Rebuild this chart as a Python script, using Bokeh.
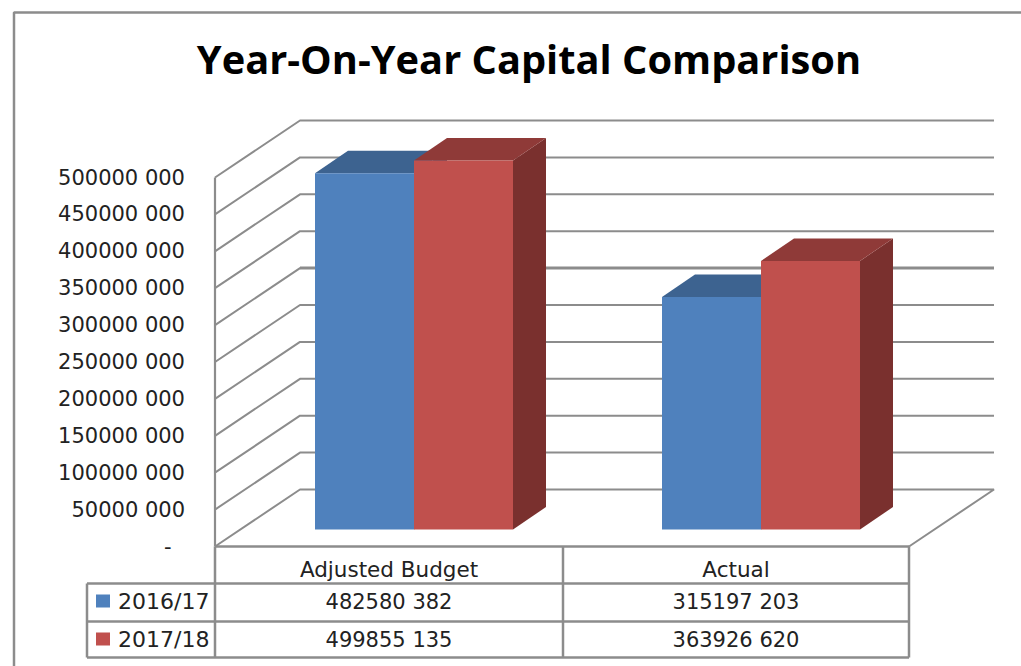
from bokeh.plotting import figure
from bokeh.models import Range1d, FixedTicker, ColumnDataSource
from bokeh.core.properties import value
from bokeh.embed import file_html
from bokeh.resources import INLINE

title = "Year-On-Year Capital Comparison"
categories = ["Adjusted Budget", "Actual"]
series_names = ["2016/17", "2017/18"]
series_2016 = [482580382, 315197203]
series_2017 = [499855135, 363926620]
tick_values = [0, 50000000, 100000000, 150000000, 200000000, 250000000,
               300000000, 350000000, 400000000, 450000000, 500000000]
tick_labels = ["-\u00a0\u00a0", "50000 000", "100000 000", "150000 000", "200000 000", "250000 000",
               "300000 000", "350000 000", "400000 000", "450000 000", "500000 000"]
heavy_gridline = 300000000

BLUE, BLUE_TOP = "#4F81BD", "#3D6390"
RED, RED_TOP, RED_SIDE = "#C0504D", "#8F3A38", "#7A302E"
LINE = "#8C8C8C"
TEXT = "#222222"
FONT = value("DejaVu Sans")

# layout, in page pixels of the picture
W, H = 1021, 666
PX_PER_UNIT = 369 / 500000000      # front wall: 0 at y=546, 500M at y=177
FLOOR_Y = 546
LEFT, RIGHT = 215, 909
WALL_DX, WALL_DY = 85, 57
BAR_W, BAR_DX, BAR_DY = 99, 33, 22.5
BAR_LIFT = 17 / PX_PER_UNIT        # bars stand 17px up the floor
GROUP_X = [315, 662]

y_start = (FLOOR_Y - H) / PX_PER_UNIT
y_end = FLOOR_Y / PX_PER_UNIT
p = figure(width=W, height=H, x_range=(0.5, W + 0.5), y_range=(y_start, y_end),
           min_border=0, output_backend="svg", toolbar_location=None,
           x_axis_location=None, y_axis_location="left")
p.extra_y_ranges["px"] = Range1d(H, 0)
p.grid.visible = False
p.outline_line_color = None
p.background_fill_color = "white"

ax = p.yaxis[0]
ax.fixed_location = 200
ax.ticker = FixedTicker(ticks=tick_values)
ax.major_label_overrides = dict(zip(tick_values, tick_labels))
ax.major_tick_line_color = None
ax.minor_tick_line_color = None
ax.axis_line_color = None
ax.major_label_standoff = 9
ax.major_label_text_font = "DejaVu Sans"
ax.major_label_text_font_size = "21px"
ax.major_label_text_color = TEXT

# outer frame of the picture
p.line([14, 14, W], [H, 12, 12], y_range_name="px", line_color=LINE, line_width=2.5)

# walls: one bent line per tick value
lift = WALL_DY / PX_PER_UNIT
p.multi_line([[LEFT, LEFT + WALL_DX, RIGHT + WALL_DX] for _ in tick_values[1:]],
             [[v, v + lift, v + lift] for v in tick_values[1:]],
             line_color=LINE, line_width=2)
p.line([LEFT + WALL_DX, RIGHT + WALL_DX], [heavy_gridline + lift] * 2, line_color=LINE, line_width=3)
p.line([LEFT, LEFT + WALL_DX, RIGHT + WALL_DX, RIGHT],
       [0, lift, lift, 0], line_color=LINE, line_width=2)
p.line([LEFT, LEFT], [0, tick_values[-1]], line_color=LINE, line_width=2.2)

# the 3-D bars
dy_bar = BAR_DY / PX_PER_UNIT
for gx, v16, v17 in zip(GROUP_X, series_2016, series_2017):
    for off, v, front, top, side in ((0, v16, BLUE, BLUE_TOP, "#385C87"), (BAR_W, v17, RED, RED_TOP, RED_SIDE)):
        x0 = gx + off
        x1 = x0 + BAR_W
        b = BAR_LIFT
        t = v + BAR_LIFT
        p.patch([x1, x1 + BAR_DX, x1 + BAR_DX, x1], [b, b + dy_bar, t + dy_bar, t], fill_color=side, line_color=None)
        p.patch([x0, x0 + BAR_DX, x1 + BAR_DX, x1], [t, t + dy_bar, t + dy_bar, t], fill_color=top, line_color=None)
        p.quad(left=[x0], right=[x1], bottom=[b], top=[t], fill_color=front, line_color=None)

# data table under the chart
DIV = 563
ROWS = [583, 621, 657]
tk = dict(y_range_name="px", line_color=LINE, line_width=2.5)
p.multi_line([[LEFT, RIGHT], [87, RIGHT], [87, RIGHT], [87, RIGHT]],
             [[FLOOR_Y, FLOOR_Y], [ROWS[0], ROWS[0]], [ROWS[1], ROWS[1]], [ROWS[2], ROWS[2]]], **tk)
p.multi_line([[LEFT, LEFT], [DIV, DIV], [RIGHT, RIGHT], [87, 87]],
             [[FLOOR_Y, ROWS[2]], [FLOOR_Y, ROWS[2]], [FLOOR_Y, ROWS[2]], [ROWS[0], ROWS[2]]], **tk)

p.quad(left=[96, 96], right=[110, 110], top=[594, 632], bottom=[607, 645],
       fill_color=[BLUE, RED], line_color=None, y_range_name="px")


def money(v):
    return f"{v // 1000} {v % 1000:03d}"


cx = [389, 736]
p.text(cx, [569, 569], categories, y_range_name="px", text_font=FONT, text_font_size="21.5px",
       text_align="center", text_baseline="middle", text_color=TEXT)
values = ColumnDataSource(dict(
    x=cx + cx,
    y=[601, 601, 639, 639],
    t=[money(v) for v in series_2016] + [money(v) for v in series_2017],
))
p.text("x", "y", "t", source=values, y_range_name="px", text_font=FONT, text_font_size="21px",
       text_align="center", text_baseline="middle", text_color=TEXT)
p.text([118, 118], [601, 639], series_names, y_range_name="px", text_font=FONT, text_font_size="22px",
       text_align="left", text_baseline="middle", text_color=TEXT)

p.text([529], [58], [title], y_range_name="px", text_font=value("Open Sans"), text_font_size="39.8px",
       text_font_style="bold", text_align="center", text_baseline="middle", text_color="#000000")

open("out.html", "w").write(file_html(p, INLINE))
